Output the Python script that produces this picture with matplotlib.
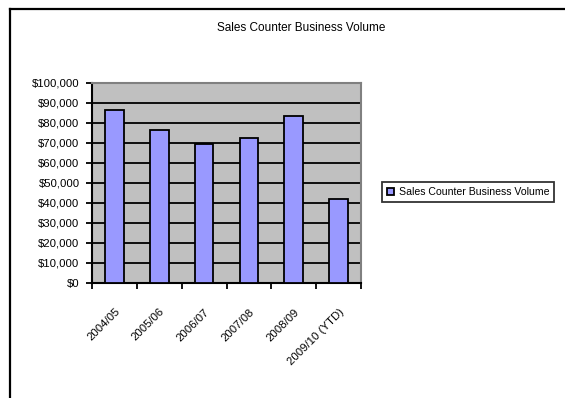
import matplotlib
matplotlib.use("Agg")
import matplotlib.pyplot as plt
from matplotlib.lines import Line2D
from matplotlib.ticker import FuncFormatter, MultipleLocator

# data
years = ["2004/05", "2005/06", "2006/07", "2007/08", "2008/09", "2009/10 (YTD)"]
volume = [86500, 76700, 69300, 72500, 83700, 41800]
series_name = "Sales Counter Business Volume"

plt.rcParams['font.family'] = ['Liberation Sans', 'DejaVu Sans']

W, H = 565, 398
fig = plt.figure(figsize=(W / 100, H / 100), dpi=100)
fig.patch.set_facecolor("white")

# outer chart border (top and left edges visible)
fig.add_artist(Line2D([9.5 / W, 1.0], [1 - 8.5 / H, 1 - 8.5 / H], color="black", lw=1.6))
fig.add_artist(Line2D([9.5 / W, 9.5 / W], [0.0, 1 - 8.5 / H], color="black", lw=1.6))

ax = fig.add_axes([92 / W, 1 - 283 / H, 269 / W, 200 / H])
ax.set_facecolor("#C0C0C0")

x = list(range(len(years)))
bars = ax.bar(x, volume, width=0.42, color="#9999FF", edgecolor="black",
              linewidth=1.3, label=series_name, zorder=3)

ax.set_xlim(-0.5, len(years) - 0.5)
ax.set_ylim(0, 100000)
ax.yaxis.set_major_locator(MultipleLocator(10000))
ax.yaxis.set_major_formatter(FuncFormatter(lambda v, p: "${:,.0f}".format(v)))
ax.grid(axis="y", color="black", lw=1.3, zorder=1)
ax.set_axisbelow(True)

# ticks between categories on the x axis, labels at centers
ax.set_xticks([i - 0.5 for i in range(len(years) + 1)])
ax.set_xticklabels([])
ax.set_xticks(x, minor=True)
ax.set_xticklabels(years, minor=True, rotation=45, ha="right",
                   rotation_mode="anchor", fontsize=8.2)
ax.tick_params(axis="x", which="minor", length=0, pad=17)
ax.tick_params(axis="x", which="major", length=4, width=1.3, direction="out")
ax.tick_params(axis="y", length=4, width=1.3, direction="out", labelsize=8.2, pad=5)

for side in ["left", "bottom"]:
    ax.spines[side].set_color("black")
    ax.spines[side].set_linewidth(1.5)
for side in ["top", "right"]:
    ax.spines[side].set_color("#808080")
    ax.spines[side].set_linewidth(1.5)

fig.text(301 / W, 1 - 28 / H, "Sales Counter Business Volume", ha="center", va="center", fontsize=8.5)

leg = fig.legend(handles=[bars], labels=[series_name], loc="center",
                 bbox_to_anchor=(468 / W, 1 - 192 / H), fontsize=7.6, frameon=True,
                 fancybox=False, edgecolor="black", handlelength=0.7, handleheight=0.7,
                 handletextpad=0.4, borderpad=0.5, borderaxespad=0)
leg.get_frame().set_linewidth(1.3)

fig.savefig("out.png", dpi=100)
